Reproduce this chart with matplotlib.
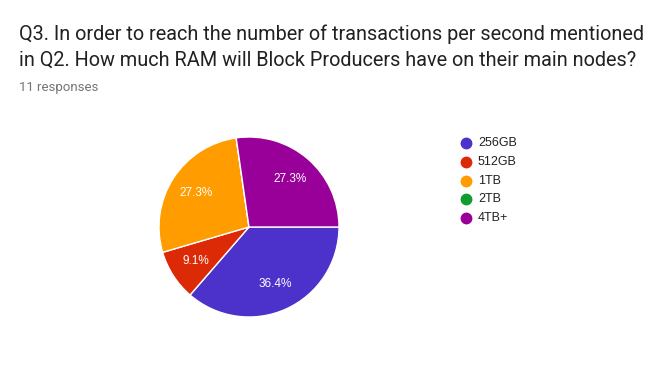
import matplotlib.pyplot as plt
from matplotlib.lines import Line2D

title = ("Q3. In order to reach the number of transactions per second mentioned\n"
         "in Q2. How much RAM will Block Producers have on their main nodes?")
subtitle = "11 responses"

labels = ['256GB', '512GB', '1TB', '2TB', '4TB+']
counts = [4, 1, 3, 0, 3]
colors = ['#4c32cb', '#dc2a06', '#ff9d00', '#109d2e', '#990099']

W, H = 669, 372
fig = plt.figure(figsize=(W / 100, H / 100), dpi=100)

fig.text(19 / W, 1 - 47 / H, title, fontsize=14.3, family='Roboto',
         color='#212121', va='center', ha='left', linespacing=1.45)
fig.text(19 / W, 1 - 87 / H, subtitle, fontsize=9.5, family='Roboto',
         color='#757575', va='center', ha='left')

# pie centred at (249, 227) px, radius ~90 px
cx, cy, r = 249, 227, 90
ax = fig.add_axes([(cx - r) / W, 1 - (cy + r) / H, 2 * r / W, 2 * r / H])
ax.pie(counts, colors=colors, startangle=0, counterclock=False,
       autopct=lambda p: '%.1f%%' % p if p > 0 else '', pctdistance=0.7,
       wedgeprops=dict(edgecolor='white', linewidth=1),
       textprops=dict(color='white', fontsize=8.5, family='Liberation Sans'))
ax.set_xlim(-1, 1)
ax.set_ylim(-1, 1)
ax.set_aspect('equal')
ax.axis('off')

# legend
for i, (lab, col) in enumerate(zip(labels, colors)):
    y = 1 - (143 + i * 18.75) / H
    fig.add_artist(Line2D([466 / W], [y], marker='o', markersize=7.5,
                          color=col, linestyle='none'))
    fig.text(478 / W, y, lab, fontsize=9, family='Liberation Sans',
             color='#222222', va='center', ha='left')

fig.savefig('out.png', dpi=100)
